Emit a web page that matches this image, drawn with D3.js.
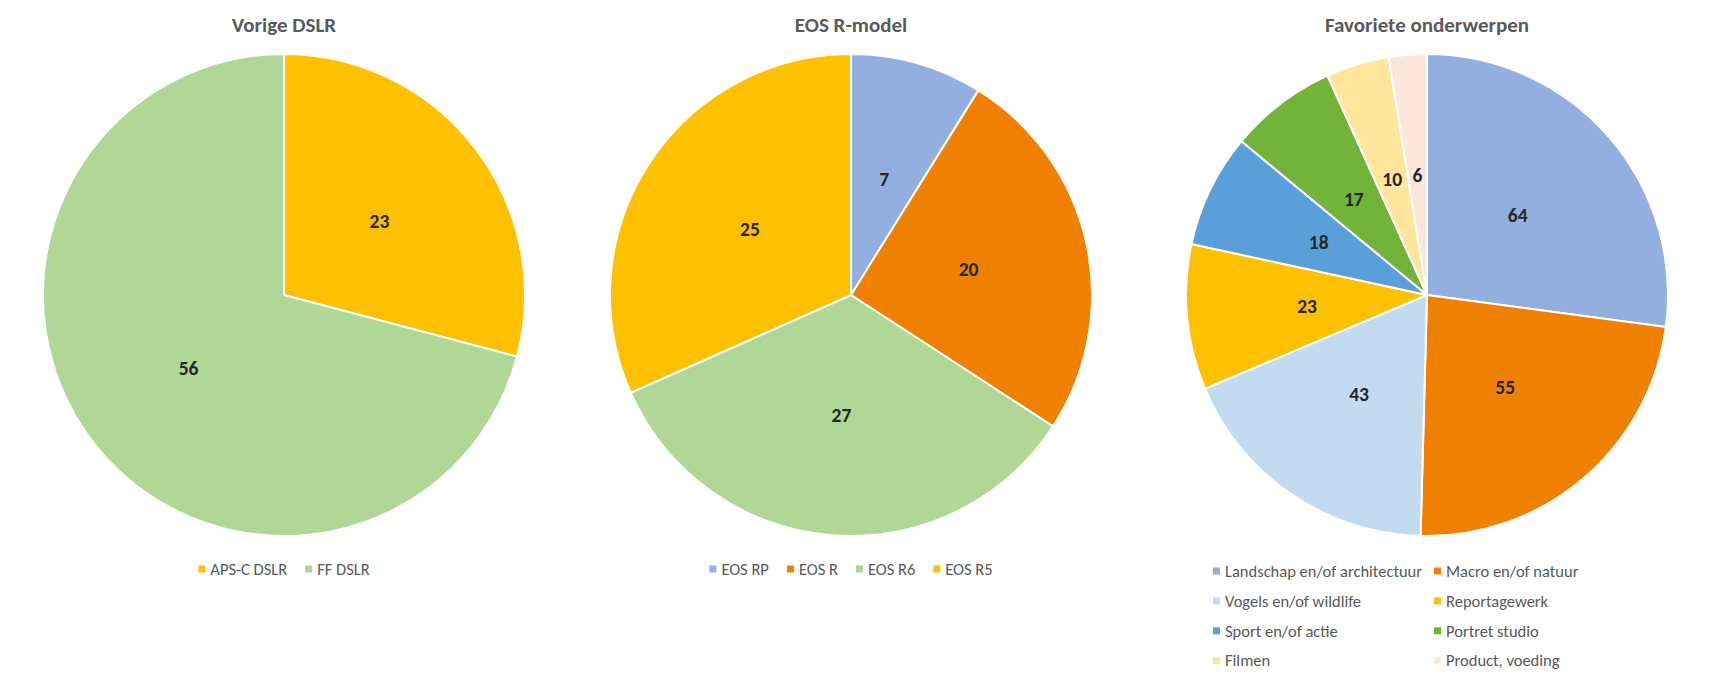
<!DOCTYPE html>
<html><head><meta charset="utf-8">
<script src="https://cdn.jsdelivr.net/npm/d3@7"></script>
<style>
html,body{margin:0;padding:0;background:#fff;}
svg{display:block;}
</style>
</head><body>
<svg id="chart" width="1717" height="680"></svg>
<script>
// ---- data ----
const titles = ["Vorige DSLR", "EOS R-model", "Favoriete onderwerpen"];

const dslrCategories = ["APS-C DSLR", "FF DSLR"];
const dslrValues = [23, 56];

const eosCategories = ["EOS RP", "EOS R", "EOS R6", "EOS R5"];
const eosValues = [7, 20, 27, 25];

const subjectCategories = ["Landschap en/of architectuur", "Macro en/of natuur", "Vogels en/of wildlife", "Reportagewerk",
  "Sport en/of actie", "Portret studio", "Filmen", "Product, voeding"];
const subjectValues = [64, 55, 43, 23, 18, 17, 10, 6];

// ---- styling ----
const dslrColors = ["#FFC000", "#B0D795"];
const eosColors = ["#92AFE0", "#F08000", "#B0D795", "#FFC000"];
const subjectColors = ["#92AFE0", "#F08000", "#C3DBF0", "#FFC000", "#59A0DA", "#72B33A", "#FFE69C", "#FBE6DA"];

const FONT = "Carlito, Calibri, Lato, 'Open Sans', sans-serif";
const svg = d3.select("#chart");

const charts = [
  {title: titles[0], cats: dslrCategories, vals: dslrValues, colors: dslrColors, cx: 284, legend: "row"},
  {title: titles[1], cats: eosCategories, vals: eosValues, colors: eosColors, cx: 851, legend: "row"},
  {title: titles[2], cats: subjectCategories, vals: subjectValues, colors: subjectColors, cx: 1427, legend: "grid"}
];
const cy = 295, R = 241;

charts.forEach(c => {
  const g = svg.append("g");
  // title
  g.append("text").attr("x", c.cx).attr("y", 32).attr("text-anchor", "middle")
    .attr("font-family", FONT).attr("font-weight", "bold").attr("font-size", 21)
    .attr("fill", "#595959").text(c.title);

  const color = d3.scaleOrdinal().domain(c.cats).range(c.colors);
  const pie = d3.pie().sort(null).value(d => d.v);
  const data = pie(c.cats.map((k, i) => ({k, v: c.vals[i]})));
  const arc = d3.arc().innerRadius(0).outerRadius(R);
  const pg = g.append("g").attr("transform", `translate(${c.cx},${cy})`);
  pg.selectAll("path").data(data).join("path")
    .attr("d", arc).attr("fill", d => color(d.data.k))
    .attr("stroke", "#fff").attr("stroke-width", 2).attr("stroke-linejoin", "round");
  pg.selectAll("text").data(data).join("text")
    .attr("transform", d => `translate(${arc.centroid(d)})`)
    .attr("text-anchor", "middle").attr("dy", "0.35em")
    .attr("font-family", FONT).attr("font-weight", "bold").attr("font-size", 19.5)
    .attr("fill", "#262626").text(d => d.data.v);

  // legend
  const lg = g.append("g");
  const items = lg.selectAll("g").data(c.cats).join("g");
  items.append("rect").attr("width", 7).attr("height", 7).attr("y", -3.5).attr("fill", d => color(d));
  items.append("text").attr("x", 12).attr("dy", "0.35em")
    .attr("font-family", FONT).attr("font-size", 16.5).attr("fill", "#595959").text(d => d);
  const widths = [];
  items.each(function() { widths.push(12 + d3.select(this).select("text").node().getComputedTextLength()); });
  if (c.legend === "row") {
    const gap = 18;
    const total = d3.sum(widths) + gap * (widths.length - 1);
    let x = c.cx - total / 2;
    items.attr("transform", (d, i) => { const t = `translate(${x},569)`; x += widths[i] + gap; return t; });
  } else {
    const colW = 221;
    const x0 = 1213;
    items.attr("transform", (d, i) => `translate(${x0 + (i % 2) * colW},${571 + Math.floor(i / 2) * 29.9})`);
  }
});
</script>
</body></html>
